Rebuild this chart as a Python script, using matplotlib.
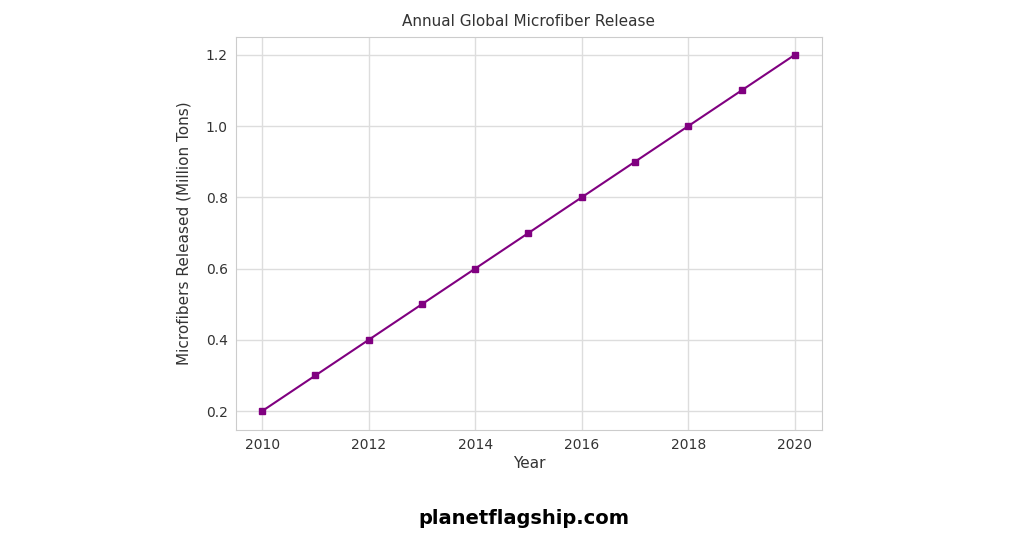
import matplotlib
matplotlib.use("Agg")
import matplotlib.pyplot as plt

years = [2010, 2011, 2012, 2013, 2014, 2015, 2016, 2017, 2018, 2019, 2020]
release = [0.2, 0.3, 0.4, 0.5, 0.6, 0.7, 0.8, 0.9, 1.0, 1.1, 1.2]

fig = plt.figure(figsize=(10.24, 5.36), dpi=100)
ax = fig.add_axes([236/1024, 1-430/536, (822-236)/1024, (430-37)/536])
ax.plot(years, release, color="purple", marker="s", markersize=5, linewidth=1.5)
ax.set_xlim(2009.51, 2020.51)
ax.set_ylim(0.147, 1.25)
ax.set_xticks([2010, 2012, 2014, 2016, 2018, 2020])
ax.set_yticks([0.2, 0.4, 0.6, 0.8, 1.0, 1.2])
ax.grid(True, color="#dddddd", linewidth=1)
ax.set_axisbelow(True)
for s in ax.spines.values():
    s.set_color("#cccccc")
ax.tick_params(colors="#333333", labelsize=10, length=0, pad=6)
ax.set_title("Annual Global Microfiber Release", fontsize=11, color="#333333", pad=8)
ax.set_xlabel("Year", fontsize=11, color="#333333", labelpad=3)
ax.set_ylabel("Microfibers Released (Million Tons)", fontsize=11, color="#333333", labelpad=10)
fig.text(524/1024, 1-518/536, "planetflagship.com", ha="center", va="center",
         fontsize=14, fontweight="bold", color="black")
fig.savefig("out.png", dpi=100)
